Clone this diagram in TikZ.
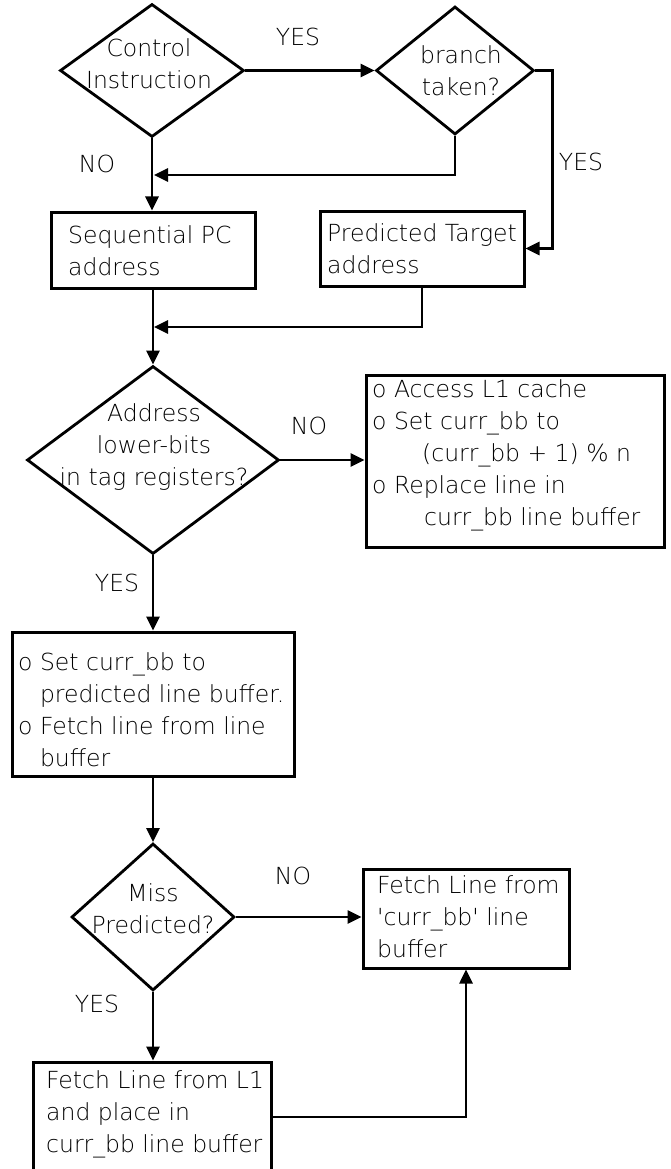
\documentclass[tikz,border=0pt]{standalone}
\usepackage{fontspec}
\setmainfont{DejaVu Sans ExtraLight}
\usetikzlibrary{shapes.geometric,arrows.meta}
\begin{document}
\begin{tikzpicture}[x=1pt,y=-1pt,
  every node/.style={font=\fontsize{23.5}{32}\selectfont},
  dia/.style={draw, diamond, line width=2.8pt, inner sep=0pt},
  box/.style={draw, rectangle, line width=3pt, inner sep=0pt},
  txt/.style={inner sep=0pt, anchor=north west, align=left},
  dtxt/.style={inner sep=0pt, anchor=north, align=center},
  lbl/.style={inner sep=0pt},
  arr/.style={line width=2.6pt, -{Triangle[length=14pt,width=13pt]}}
]
\useasboundingbox (0,0) rectangle (670,1169);

% decisions
\node[dia, minimum width=184pt, minimum height=133pt] (d1) at (152,70.5) {};
\node[dtxt] (d1t) at (149,34.3) {\strut Control\\Instruction};
\node[dia, minimum width=158pt, minimum height=128pt] (d2) at (455,70.5) {};
\node[dtxt] (d2t) at (461,40.9) {\strut branch\\taken?};
\node[dia, minimum width=252pt, minimum height=188pt] (d3) at (153,460) {};
\node[dtxt] (d3t) at (154,399.3) {\strut Address\\lower-bits\\in tag registers?};
\node[dia, minimum width=163pt, minimum height=147pt] (d4) at (153,917) {};
\node[dtxt] (d4t) at (153,879.3) {\strut Miss\\Predicted?};

% boxes
\node[box, minimum width=204pt, minimum height=76pt] (b1) at (153,250) {};
\node[txt] (b1t) at (68,220.6) {\strut Sequential PC\\address};
\node[box, minimum width=204pt, minimum height=75pt] (b2) at (422,248.5) {};
\node[txt] (b2t) at (327,218.6) {\strut Predicted Target\\address};
\node[box, minimum width=298pt, minimum height=172pt] (b3) at (515,461) {};
\node[txt] (b3t) at (372,374.6) {\strut o Access L1 cache\\o Set curr\_bb to\\\hspace*{50pt}(curr\_bb + 1) \% n\\o Replace line in\\\hspace*{52pt}curr\_bb line buffer};
\node[box, minimum width=282pt, minimum height=144pt] (b4) at (153,704) {};
\node[txt] (b4t) at (18,647.6) {\strut o Set curr\_bb to\\\hphantom{o\ }predicted line buffer.\\o Fetch line from line\\\hphantom{o\ }buffer};
\node[box, minimum width=206pt, minimum height=99pt] (b5) at (466,918.5) {};
\node[txt] (b5t) at (377,870.6) {\strut Fetch Line from\\\textquotesingle curr\_bb\textquotesingle\ line\\buffer};
\node[box, minimum width=237.5pt, minimum height=110pt] (b6) at (152.5,1117) {};
\node[txt] (b6t) at (46,1065.6) {\strut Fetch Line from L1\\and place in\\curr\_bb line buffer};

% labels
\node[lbl] (yes1) at (298,37) {YES};
\node[lbl] (yes2) at (581,162) {YES};
\node[lbl] (no1) at (97,164) {NO};
\node[lbl] (no2) at (309,426) {NO};
\node[lbl] (yes3) at (117,583) {YES};
\node[lbl] (no3) at (293,876) {NO};
\node[lbl] (yes4) at (97,1004) {YES};

% junctions
\coordinate (j1) at (154,175);
\coordinate (j2) at (154,327);

% connectors
\draw[arr] (d1.east) -- (d1.east -| d2.west);
\draw[arr] (d2.east) -- ++(17,0) |- (b2.east);
\draw[arr] (d2.south) |- (j1);
\draw[arr] (d1.south) -- (d1.south |- b1.north);
\draw[arr] (b1.south) -- (b1.south |- d3.north);
\draw[arr] (b2.south) |- (j2);
\draw[arr] (d3.east) -- (d3.east -| b3.west);
\draw[arr] (d3.south) -- (d3.south |- b4.north);
\draw[arr] (b4.south) -- (b4.south |- d4.north);
\draw[arr] (d4.east) -- (d4.east -| b5.west);
\draw[arr] (d4.south) -- (d4.south |- b6.north);
\draw[arr] (b6.east) -| (b5.south);
\end{tikzpicture}
\end{document}
